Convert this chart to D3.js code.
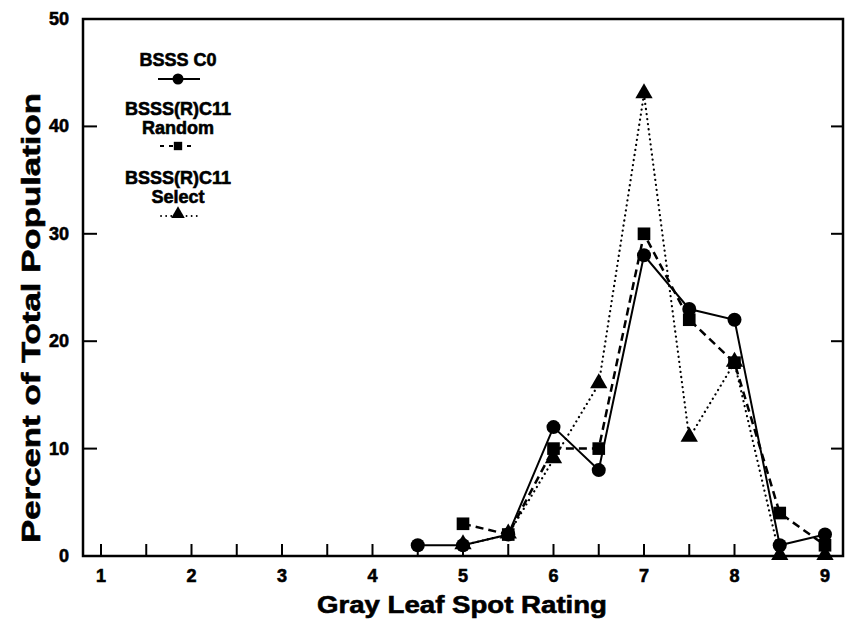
<!DOCTYPE html>
<html><head><meta charset="utf-8">
<script src="https://cdn.jsdelivr.net/npm/d3@7"></script>
<style>body{margin:0;background:#fff}text{font-family:"Liberation Sans",Arial,sans-serif;font-weight:bold;fill:#000;stroke:#000;stroke-width:0.6}</style>
</head><body><svg id="c" width="847" height="623"></svg>
<script>
const ratings = [4.5,5,5.5,6,6.5,7,7.5,8,8.5,9];
const c0 = [1,1,2,12,8,28,23,22,1,2];
const randomRatings = [5,5.5,6,6.5,7,7.5,8,8.5,9];
const random = [3,2,10,10,30,22,18,4,1];
const selectRatings = [5,5.5,6,6.5,7,7.5,8,8.5,9];
const select = [1,2,9,16,43,11,18,0,0];
const xTickLabels = [1,2,3,4,5,6,7,8,9];
const yTickLabels = [0,10,20,30,40,50];
const seriesNames = ["BSSS C0","BSSS(R)C11\nRandom","BSSS(R)C11\nSelect"];

const svg = d3.select("#c");
const L=83,R=843,T=19,B=556;
const xs = d3.scaleLinear().domain([1,9]).range([101,825]);
const y = d3.scaleLinear().domain([0,50]).range([B,T]);

// frame
svg.append("rect").attr("x",L).attr("y",T).attr("width",R-L).attr("height",B-T)
  .attr("fill","none").attr("stroke","#000").attr("stroke-width",2.5);

// x ticks every 0.5
const xt = d3.range(1,9.01,0.5);
svg.selectAll(".xt").data(xt).join("line").attr("x1",d=>xs(d)).attr("x2",d=>xs(d))
  .attr("y1",B).attr("y2",B-12).attr("stroke","#000").attr("stroke-width",2);
svg.selectAll(".xl").data(xTickLabels).join("text").attr("x",d=>xs(d)).attr("y",B+26)
  .attr("text-anchor","middle").attr("font-size",18).text(d=>d);

// y ticks
const yt = [10,20,30,40];
svg.selectAll(".ytl").data(yt).join("line").attr("x1",L).attr("x2",L+14)
  .attr("y1",d=>y(d)).attr("y2",d=>y(d)).attr("stroke","#000").attr("stroke-width",2);
svg.selectAll(".ytr").data(yt).join("line").attr("x1",R).attr("x2",R-12)
  .attr("y1",d=>y(d)).attr("y2",d=>y(d)).attr("stroke","#000").attr("stroke-width",2);
svg.selectAll(".yl").data(yTickLabels).join("text").attr("x",L-14).attr("y",d=>y(d)+6)
  .attr("text-anchor","end").attr("font-size",18).text(d=>d);

// titles
svg.append("text").attr("x",462).attr("y",613).attr("text-anchor","middle").attr("font-size",24)
  .attr("textLength",290).attr("lengthAdjust","spacingAndGlyphs").text("Gray Leaf Spot Rating");
svg.append("text").attr("transform","translate(40,318) rotate(-90)").attr("text-anchor","middle")
  .attr("font-size",25).attr("textLength",450).attr("lengthAdjust","spacingAndGlyphs")
  .text("Percent of Total Population");

const line = d3.line().x(d=>xs(d[0])).y(d=>y(d[1]));
const sC0 = ratings.map((r,i)=>[r,c0[i]]);
const sR = randomRatings.map((r,i)=>[r,random[i]]);
const sS = selectRatings.map((r,i)=>[r,select[i]]);

svg.append("path").datum(sS).attr("d",line).attr("fill","none").attr("stroke","#000")
  .attr("stroke-width",2.2).attr("stroke-dasharray","0.1,5").attr("stroke-linecap","round");
svg.append("path").datum(sR).attr("d",line).attr("fill","none").attr("stroke","#000")
  .attr("stroke-width",2.5).attr("stroke-dasharray","8,5");
svg.append("path").datum(sC0).attr("d",line).attr("fill","none").attr("stroke","#000")
  .attr("stroke-width",2);

const tri = d3.symbol().type(d3.symbolTriangle).size(130);
const sq = d3.symbol().type(d3.symbolSquare).size(160);
svg.selectAll(".tri").data(sS).join("path").attr("d",tri)
  .attr("transform",d=>`translate(${xs(d[0])},${y(d[1])-1})`).attr("fill","#000");
svg.selectAll(".sq").data(sR).join("path").attr("d",sq)
  .attr("transform",d=>`translate(${xs(d[0])},${y(d[1])})`).attr("fill","#000");
svg.selectAll(".ci").data(sC0).join("circle").attr("cx",d=>xs(d[0])).attr("cy",d=>y(d[1]))
  .attr("r",7).attr("fill","#000");

// legend
const lg = svg.append("g");
const lx = 178;
function label(lines, y0){
  lines.forEach((t,i)=>lg.append("text").attr("x",lx).attr("y",y0+i*19).attr("text-anchor","middle")
    .attr("font-size",18).text(t));
}
label(seriesNames[0].split("\n"),66);
lg.append("line").attr("x1",158).attr("x2",200).attr("y1",79).attr("y2",79).attr("stroke","#000").attr("stroke-width",1.8);
lg.append("circle").attr("cx",lx).attr("cy",79).attr("r",5.5).attr("fill","#000");
label(seriesNames[1].split("\n"),115);
lg.append("line").attr("x1",160).attr("x2",196).attr("y1",146).attr("y2",146).attr("stroke","#000")
  .attr("stroke-width",1.8).attr("stroke-dasharray","4,5");
lg.append("path").attr("d",d3.symbol().type(d3.symbolSquare).size(70)).attr("transform",`translate(${lx},146)`).attr("fill","#000");
label(seriesNames[2].split("\n"),184);
lg.append("line").attr("x1",161).attr("x2",197).attr("y1",216).attr("y2",216).attr("stroke","#000")
  .attr("stroke-width",1.8).attr("stroke-dasharray","0.1,5").attr("stroke-linecap","round");
lg.append("path").attr("d",d3.symbol().type(d3.symbolTriangle).size(80)).attr("transform",`translate(${lx},214)`).attr("fill","#000");
</script></body></html>
